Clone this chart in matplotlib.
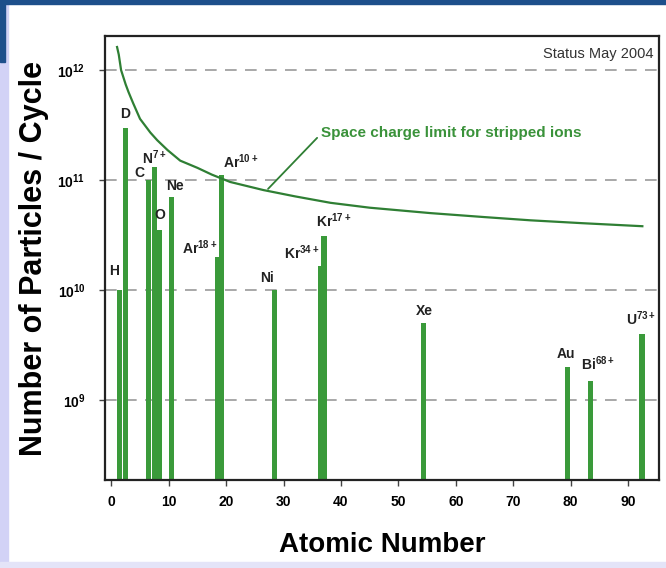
import matplotlib
matplotlib.use("Agg")
import matplotlib.pyplot as plt
from matplotlib.patches import Rectangle

plt.rcParams['font.family'] = ['Liberation Sans', 'DejaVu Sans']
plt.rcParams['font.weight'] = 'bold'
plt.rcParams['mathtext.fontset'] = 'custom'
plt.rcParams['mathtext.rm'] = 'Liberation Sans:bold'
plt.rcParams['mathtext.bf'] = 'Liberation Sans:bold'
plt.rcParams['mathtext.default'] = 'rm'

# ion beams: position on the atomic number axis and particles per cycle
ions = ['H', 'D', 'C', r'N$^{7+}$', 'O', 'Ne', r'Ar$^{18+}$', r'Ar$^{10+}$', 'Ni',
        r'Kr$^{34+}$', r'Kr$^{17+}$', 'Xe', 'Au', r'Bi$^{68+}$', r'U$^{73+}$']
atomic_number = [1, 2, 6, 7, 8, 10, 18, 18.8, 28, 36, 36.6, 54, 79, 83, 92]
particles = [1.0e10, 3.0e11, 1.0e11, 1.3e11, 3.5e10, 7.0e10, 2.0e10, 1.1e11, 1.0e10,
             1.65e10, 3.1e10, 5.0e9, 2.0e9, 1.5e9, 4.0e9]

# space charge limit curve
limit_z = [1.0, 1.3, 1.7, 2.5, 3.0, 3.8, 5.0, 6.8, 8.0, 9.8, 12.0, 15.0, 17.5,
           20.7, 26.5, 32.0, 38.2, 45.0, 55.6, 65.0, 73.0, 82.0, 92.5]
limit_n = [1.62e12, 1.38e12, 1.0e12, 7.4e11, 6.3e11, 5.0e11, 3.6e11, 2.7e11, 2.3e11,
           1.87e11, 1.5e11, 1.29e11, 1.12e11, 9.6e10, 8.1e10, 7.1e10, 6.2e10, 5.6e10,
           5.0e10, 4.6e10, 4.3e10, 4.05e10, 3.8e10]

x_ticks = [0, 10, 20, 30, 40, 50, 60, 70, 80, 90]
y_ticks = [1e9, 1e10, 1e11, 1e12]
y_labels = [r'10$^{9}$', r'10$^{10}$', r'10$^{11}$', r'10$^{12}$']

# label offsets in pixels from the top of each bar
label_offsets = [(-6, 19), (0, 14), (-9, 7), (0, 10), (0, 15), (4, 11), (-17, 9),
                 (19, 14), (-8, 12), (-19, 13), (10, 15), (0, 12), (-2, 13), (8, 17), (-1, 15)]

bar_green = '#3a9a3a'
line_green = '#2f7f34'

fig = plt.figure(figsize=(6.66, 5.68), dpi=100)
fig.patch.set_facecolor('white')

# slide frame
fig.patches.append(Rectangle((0, 0), 8 / 666, 1, transform=fig.transFigure,
                             color='#d2d2f6', zorder=0))
fig.patches.append(Rectangle((0, 0), 1, 6 / 568, transform=fig.transFigure,
                             color='#e4e4f8', zorder=0))
fig.patches.append(Rectangle((0, 1 - 4 / 568), 1, 4 / 568, transform=fig.transFigure,
                             color='#1d4f8b', zorder=0))
fig.patches.append(Rectangle((0, 1 - 62 / 568), 5 / 666, 62 / 568, transform=fig.transFigure,
                             color='#1d4f8b', zorder=0))

ax = fig.add_axes([105 / 666, 1 - 480 / 568, 554 / 666, 444 / 568])
ax.set_yscale('log')
ax.set_xlim(-1.1, 95.4)
ax.set_ylim(1.87e8, 2.04e12)

for yv in y_ticks:
    ax.axhline(yv, color='#9a9a9a', lw=1.2, dashes=(7, 5), zorder=1)

ax.bar(atomic_number, [p - 1e8 for p in particles], bottom=1e8, width=0.9,
       align='edge', color=bar_green, zorder=2)

for name, z, n, off in zip(ions, atomic_number, particles, label_offsets):
    ax.annotate(name, xy=(z + 0.45, n), xytext=off, textcoords='offset pixels',
                ha='center', va='center', fontsize=10, fontweight='bold', color='#222222')

ax.plot(limit_z, limit_n, color=line_green, lw=1.6, zorder=3)

ax.annotate('Space charge limit for stripped ions', xy=(27.3, 8.3e10),
            xytext=(36.5, 2.7e11), textcoords='data', ha='left', va='center',
            fontsize=11, fontweight='bold', color='#3a923a',
            arrowprops=dict(arrowstyle='-', color=line_green, lw=1.3, shrinkA=1, shrinkB=0,
                            relpos=(0, 0.4)))

ax.text(0.99, 0.96, 'Status May 2004', transform=ax.transAxes, ha='right', va='center',
        fontsize=10.5, fontweight='normal', color='#333333')

ax.set_xticks(x_ticks)
ax.set_xticklabels([str(t) for t in x_ticks], fontsize=10, fontweight='bold')
ax.set_yticks(y_ticks)
ax.set_yticklabels(y_labels, fontsize=10)
ax.minorticks_off()
ax.tick_params(axis='both', direction='out', length=4, width=1, color='#444444')
ax.tick_params(axis='y', pad=10)
ax.tick_params(axis='x', pad=7)

for s in ax.spines.values():
    s.set_linewidth(1.6)
    s.set_color('#222222')

ax.set_xlabel('Atomic Number', fontsize=20, fontweight='bold', labelpad=16)
ax.set_ylabel('Number of Particles / Cycle', fontsize=22, fontweight='bold', labelpad=6)

fig.savefig('out.png', dpi=100)
